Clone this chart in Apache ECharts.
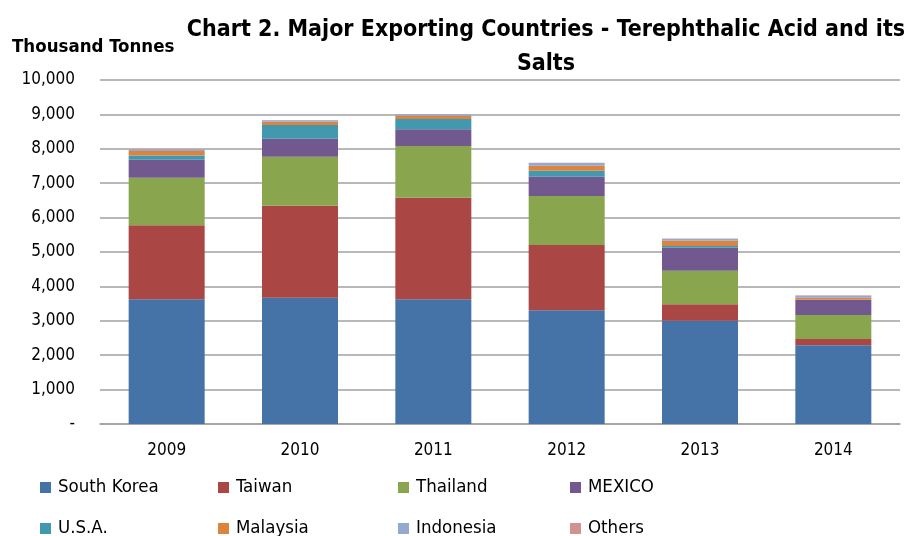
<!DOCTYPE html>
<html>
<head>
<meta charset="utf-8">
<script src="https://cdn.jsdelivr.net/npm/echarts@6/dist/echarts.min.js"></script>
<style>
html,body{margin:0;padding:0;background:#fff;}
#chart{width:911px;height:536px;}
</style>
</head>
<body>
<div id="chart"></div>
<script>
var years = ['2009', '2010', '2011', '2012', '2013', '2014'];
var southKorea = [3625, 3672, 3625, 3305, 3003, 2288];
var taiwan     = [2151, 2674, 2955, 1898, 475, 184];
var thailand   = [1384, 1424, 1501, 1425, 976, 697];
var mexico     = [523, 523, 486, 561, 669, 436];
var usa        = [125, 397, 299, 174, 49, 10];
var malaysia   = [125, 97, 96, 146, 154, 57];
var indonesia  = [50, 40, 40, 78, 58, 58];
var others     = [10, 10, 10, 10, 10, 10];
var yTicks = [0, 1000, 2000, 3000, 4000, 5000, 6000, 7000, 8000, 9000, 10000];

var seriesNames = ['South Korea', 'Taiwan', 'Thailand', 'MEXICO', 'U.S.A.', 'Malaysia', 'Indonesia', 'Others'];
var seriesData = [southKorea, taiwan, thailand, mexico, usa, malaysia, indonesia, others];
var colors = ['#4572A7', '#AA4643', '#89A54E', '#71588F', '#4198AF', '#DB843D', '#93A9CF', '#D19392'];

var FONT = "'Liberation Sans Narrow', 'DejaVu Sans Condensed', 'Noto Sans', sans-serif";

var legendPos = [
  [40, 478], [218, 478], [398, 478], [570, 478],
  [40, 519], [218, 519], [398, 519], [570, 519]
];
var legends = seriesNames.map(function (n, i) {
  return {
    data: [n], left: legendPos[i][0], top: legendPos[i][1],
    itemWidth: 11, itemHeight: 11, itemGap: 0, padding: 0,
    icon: 'rect', selectedMode: false,
    textStyle: { fontFamily: FONT, fontSize: 18.5, color: '#000', padding: [0, 0, 0, 2] }
  };
});

var chart = echarts.init(document.getElementById('chart'));
chart.setOption({
  animation: false,
  color: colors,
  title: [
    {
      text: 'Chart 2. Major Exporting Countries - Terephthalic Acid and its\nSalts',
      left: 541, top: 8, textAlign: 'center',
      textStyle: { fontFamily: FONT, fontSize: 23, fontWeight: 'bold', color: '#000', lineHeight: 34 }
    },
    {
      text: 'Thousand Tonnes', left: 7, top: 33,
      textStyle: { fontFamily: FONT, fontSize: 18.5, fontWeight: 'bold', color: '#000' }
    }
  ],
  legend: legends,
  grid: { left: 100, right: 11, top: 80, bottom: 112, containLabel: false },
  xAxis: {
    type: 'category', data: years,
    axisLine: { lineStyle: { color: '#a0a0a0', width: 1.5 } },
    axisTick: { show: false },
    axisLabel: { fontFamily: FONT, fontSize: 17, color: '#000', margin: 18 }
  },
  yAxis: {
    type: 'value', min: yTicks[0], max: yTicks[yTicks.length - 1], interval: yTicks[1] - yTicks[0],
    axisLine: { show: false }, axisTick: { show: false },
    splitLine: { lineStyle: { color: '#a0a0a0', width: 1.5 } },
    axisLabel: {
      fontFamily: FONT, fontSize: 17, color: '#000', margin: 25,
      formatter: function (v) { return v === 0 ? '-' : v.toLocaleString('en-US'); }
    }
  },
  series: seriesNames.map(function (n, i) {
    return {
      name: n, type: 'bar', stack: 'total', data: seriesData[i],
      barWidth: '57%',
      itemStyle: { color: colors[i] }
    };
  })
});
</script>
</body>
</html>
